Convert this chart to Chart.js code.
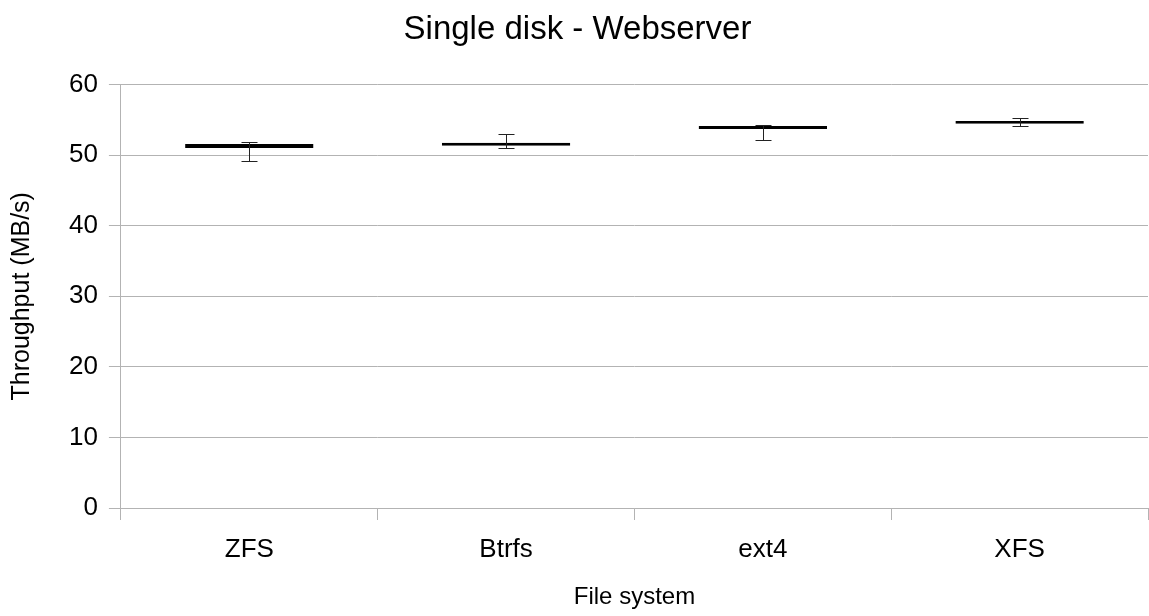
<!DOCTYPE html>
<html>
<head>
<meta charset="utf-8">
<script src="https://cdn.jsdelivr.net/npm/chart.js@4.4.1/dist/chart.umd.min.js"></script>
<style>
  html, body { margin: 0; padding: 0; background: #fff; }
  #wrap { width: 1149px; height: 616px; }
</style>
</head>
<body>
<div id="wrap"><canvas id="myChart"></canvas></div>
<script>
// file systems on the x axis
const fileSystems = ["ZFS", "Btrfs", "ext4", "XFS"];
// box low / high (MB/s)
const boxLow = [51.0, 51.35, 53.7, 54.45];
const boxHigh = [51.6, 51.75, 54.15, 54.85];
// whisker min / max (MB/s)
const whiskerLow = [49.2, 51.05, 52.2, 54.1];
const whiskerHigh = [51.8, 53.05, 54.25, 55.2];
// y ticks
const yTicks = [0, 10, 20, 30, 40, 50, 60];

const fontFam = "'Liberation Sans', Arial, sans-serif";

// draws the min/max whiskers through the chart's scales
const whiskers = {
	id: "whiskers",
	afterDatasetsDraw(chart) {
		const ctx = chart.ctx;
		const meta = chart.getDatasetMeta(0);
		const y = chart.scales.y;
		ctx.save();
		ctx.strokeStyle = "#222";
		ctx.lineWidth = 1;
		meta.data.forEach((bar, i) => {
			const x = Math.round(bar.x) + 0.5;
			const top = Math.round(y.getPixelForValue(whiskerHigh[i])) + 0.5;
			const bot = Math.round(y.getPixelForValue(whiskerLow[i])) + 0.5;
			ctx.beginPath();
			ctx.moveTo(x, top);
			ctx.lineTo(x, bot);
			ctx.moveTo(x - 8, top);
			ctx.lineTo(x + 8, top);
			ctx.moveTo(x - 8, bot);
			ctx.lineTo(x + 8, bot);
			ctx.stroke();
		});
		ctx.restore();
	},
};

const ctx = document.getElementById("myChart");
new Chart(ctx, {
	type: "bar",
	data: {
		labels: fileSystems,
		datasets: [
			{
				data: fileSystems.map((f, i) => [boxLow[i], boxHigh[i]]),
				backgroundColor: "#111",
				borderColor: "#000",
				borderWidth: 2,
				borderSkipped: false,
				barPercentage: 0.5,
				categoryPercentage: 1,
			},
		],
	},
	options: {
		responsive: true,
		maintainAspectRatio: false,
		animation: false,
		layout: { padding: { left: 7, right: 1, top: 0, bottom: 0 } },
		scales: {
			x: {
				offset: true,
				grid: {
					offset: true,
					drawOnChartArea: false,
					drawTicks: true,
					tickLength: 12,
					color: "#b3b3b3",
				},
				border: { color: "#b3b3b3" },
				ticks: {
					color: "#000",
					font: { family: fontFam, size: 26 },
					padding: 14,
				},
				title: {
					display: true,
					text: "File system",
					color: "#000",
					font: { family: fontFam, size: 24 },
					padding: { top: 4, bottom: 4 },
				},
			},
			y: {
				min: 0,
				max: 60,
				afterBuildTicks: (axis) => {
					axis.ticks = yTicks.map((v) => ({ value: v }));
				},
				grid: {
					color: "#b3b3b3",
					tickLength: 12,
				},
				border: { color: "#b3b3b3" },
				ticks: {
					color: "#000",
					font: { family: fontFam, size: 26 },
					padding: 11,
				},
				title: {
					display: true,
					text: "Throughput (MB/s)",
					color: "#000",
					font: { family: fontFam, size: 25 },
					padding: { top: 0, bottom: 21 },
				},
			},
		},
		plugins: {
			legend: { display: false },
			tooltip: { enabled: false },
			title: {
				display: true,
				text: "Single disk - Webserver",
				color: "#000",
				font: { family: fontFam, size: 33, weight: "normal" },
				padding: { top: 10, bottom: 35 },
			},
		},
	},
	plugins: [whiskers],
});
</script>
</body>
</html>
